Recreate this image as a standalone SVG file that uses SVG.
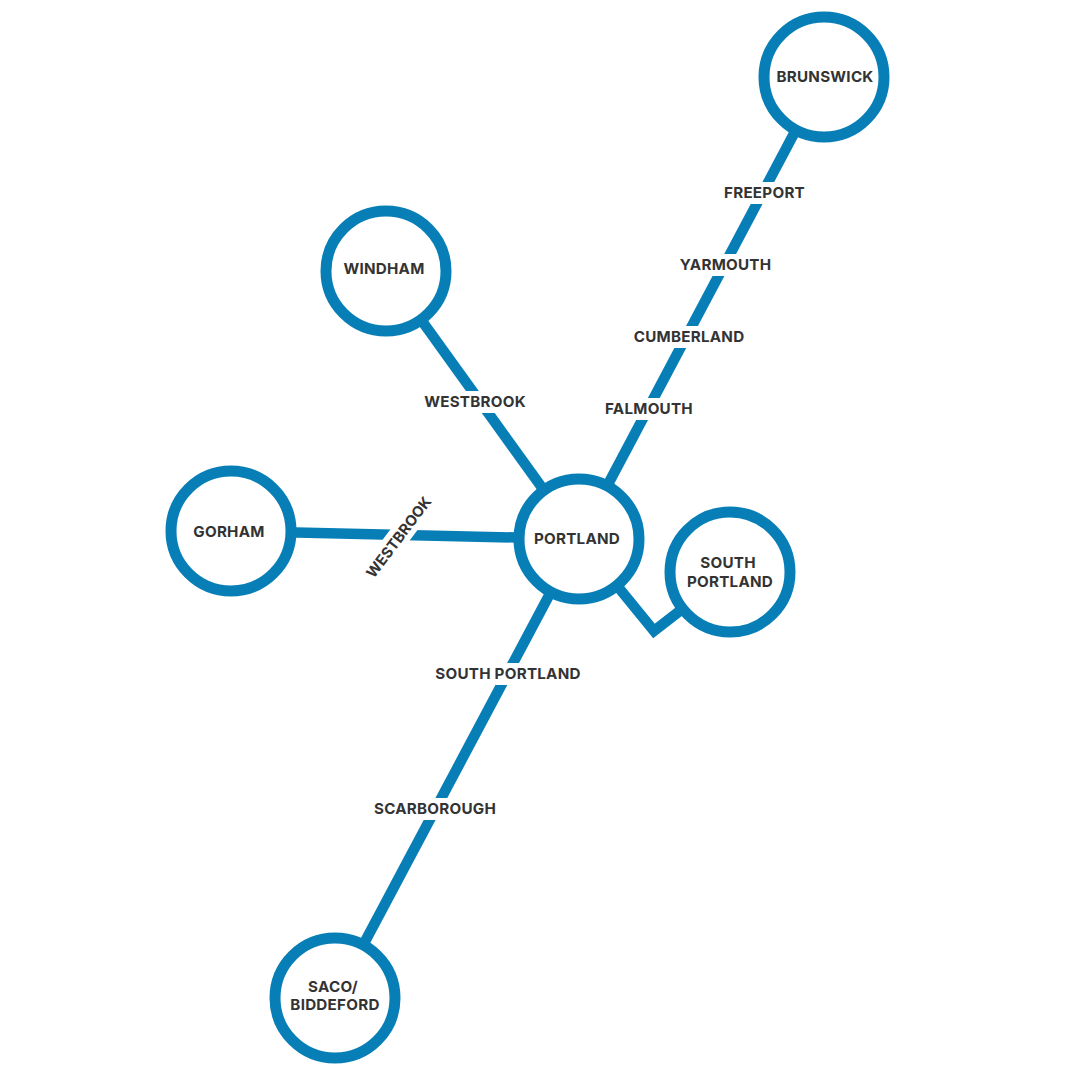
<svg xmlns="http://www.w3.org/2000/svg" width="1080" height="1080" viewBox="0 0 1080 1080">
<style>
.bg{fill:#fff}
.c{fill:#fff;stroke:#077fb6;stroke-width:11}
.l{fill:none;stroke:#077fb6;stroke-width:10.500}
text{font-family:"Inter","Liberation Sans",sans-serif;font-size:15.200px;font-weight:700;letter-spacing:.25px;fill:#333;text-anchor:middle}
.r{font-size:14.800px;letter-spacing:0}
.m{fill:#fff}
</style>
<rect class="bg" width="1080" height="1080"/>
<g id="connectors">
<path class="l" d="M824 77L579 539"/>
<path class="l" d="M386 271L579 539"/>
<path class="l" d="M231 531L579 539"/>
<path class="l" d="M579 539L335 998"/>
<path class="l" d="M579 539L654 631L730 572"/>
</g>
<g id="labels">
<rect class="m" x="721" y="182" width="88" height="22"/><text x="764.500" y="198">FREEPORT</text>
<rect class="m" x="678" y="254" width="96" height="22"/><text x="725.500" y="270">YARMOUTH</text>
<rect class="m" x="630" y="326" width="119" height="22"/><text x="689" y="342">CUMBERLAND</text>
<rect class="m" x="603" y="398" width="93" height="22"/><text x="649" y="414">FALMOUTH</text>
<rect class="m" x="423" y="391" width="105" height="22"/><text x="475" y="407">WESTBROOK</text>
<g transform="rotate(-53 398.500 537)"><rect class="m" x="345" y="526" width="107" height="22"/><text class="r" x="398.500" y="542.500">WESTBROOK</text></g>
<rect class="m" x="433" y="663" width="150" height="22"/><text x="508" y="679">SOUTH PORTLAND</text>
<rect class="m" x="372" y="798" width="127" height="22"/><text x="435" y="814">SCARBOROUGH</text>
</g>
<g id="brunswick"><circle class="c" cx="824" cy="77" r="60"/><text x="825" y="82">BRUNSWICK</text></g>
<g id="windham"><circle class="c" cx="386" cy="271" r="60"/><text x="384" y="274">WINDHAM</text></g>
<g id="gorham"><circle class="c" cx="231" cy="531" r="60"/><text x="229" y="537">GORHAM</text></g>
<g id="portland"><circle class="c" cx="579" cy="539" r="60"/><text x="577" y="544">PORTLAND</text></g>
<g id="south-portland"><circle class="c" cx="730" cy="572" r="60"/><text x="728" y="568">SOUTH</text><text x="730" y="587">PORTLAND</text></g>
<g id="saco"><circle class="c" cx="335" cy="998" r="60"/><text x="333" y="992">SACO/</text><text x="335" y="1010">BIDDEFORD</text></g>
</svg>
